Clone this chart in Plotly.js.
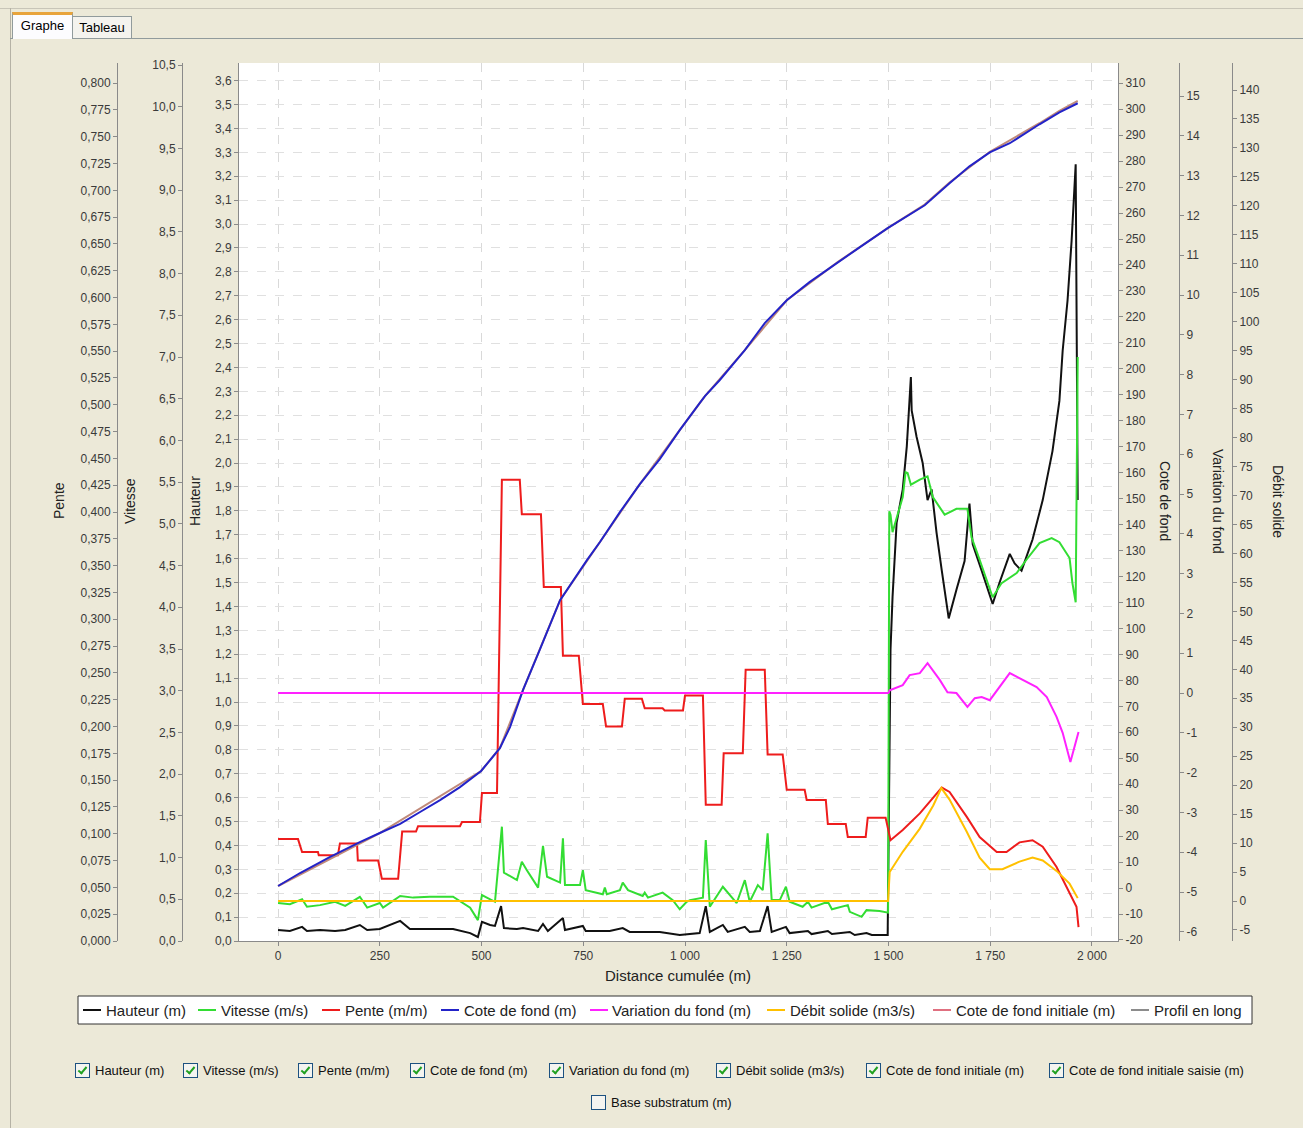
<!DOCTYPE html>
<html>
<head>
<meta charset="utf-8">
<script src="https://cdn.plot.ly/plotly-3.0.1.min.js"></script>
<style>
  html, body { margin:0; padding:0; }
  body { width:1303px; height:1128px; overflow:hidden; background:#ECE9D8; position:relative; font-family:"Liberation Sans", Arial, sans-serif; }
  #chart { position:absolute; left:0; top:0; width:1303px; height:1128px; }
  .frame-top { position:absolute; left:0; top:8px; width:1303px; height:1px; background:#c8c5b8; }
  .frame-left { position:absolute; left:10px; top:8px; width:1px; height:1120px; background:#b5b2a5; }
  .panel-top { position:absolute; left:10px; top:38px; width:1293px; height:1px; background:#919b9c; }
  .tab { position:absolute; font-size:13px; color:#000; text-align:center; box-sizing:border-box; border:1px solid #919b9c; border-bottom:none; }
  .tab1 { left:12px; top:12px; width:61px; height:27px; background:#fcfcfe; border-top:3px solid #e8a43c; line-height:22px; z-index:2; }
  .tab2 { left:72px; top:16px; width:60px; height:22px; background:#f4f3ee; line-height:22px; }
  .cb { position:absolute; font-size:13px; color:#111; white-space:nowrap; line-height:16px; }
  .cb .box { display:inline-block; width:13px; height:13px; border:1px solid #1c5180; background:#f4f4f0; vertical-align:-3px; margin-right:5px; position:relative; }
  .cb .box.on::after { content:""; position:absolute; left:4px; top:1px; width:3px; height:7px; border-right:2px solid #21a121; border-bottom:2px solid #21a121; transform:rotate(40deg); }
</style>
</head>
<body>
<div class="frame-top"></div>
<div class="frame-left"></div>
<div class="panel-top"></div>
<div class="tab tab1">Graphe</div>
<div class="tab tab2">Tableau</div>
<div id="chart"></div>
<div id="checks"></div>
<script>
// ---------------- DATA ----------------
const xTickVals = [0, 250, 500, 750, 1000, 1250, 1500, 1750, 2000];
const xTickText = ['0', '250', '500', '750', '1 000', '1 250', '1 500', '1 750', '2 000'];

const distHauteur = [0,29,59,71,103,140,165,201,219,250,300,324,373,430,472,491,501,521,533,548,555,587,602,639,651,663,700,705,749,756,815,847,864,938,987,1036,1051,1061,1093,1105,1147,1159,1184,1203,1213,1248,1257,1302,1311,1351,1361,1405,1417,1446,1459,1498,
  1505,1510,1520,1535,1545,1550,1555,1557,1569,1584,1596,1606,1618,1631,1648,1667,1687,1699,1707,1729,1756,1773,1798,1810,1827,1854,1879,1903,1920,1928,1940,1950,1960,1965];
const hauteur = [0.046,0.042,0.059,0.042,0.046,0.042,0.046,0.067,0.046,0.05,0.084,0.05,0.05,0.05,0.033,0.017,0.08,0.067,0.063,0.146,0.054,0.05,0.054,0.042,0.071,0.042,0.096,0.046,0.063,0.042,0.042,0.054,0.038,0.038,0.025,0.033,0.146,0.038,0.067,0.038,0.059,0.038,0.042,0.146,0.038,0.059,0.033,0.042,0.029,0.042,0.029,0.038,0.025,0.033,0.025,0.025,
  1.22,1.44,1.75,1.89,2.07,2.22,2.36,2.22,2.11,2.00,1.845,1.89,1.71,1.55,1.35,1.47,1.59,1.83,1.66,1.55,1.41,1.50,1.62,1.58,1.55,1.68,1.845,2.05,2.26,2.47,2.68,2.93,3.25,1.845];

const distVitesse = [0,29,59,71,103,140,165,201,219,250,258,300,332,373,430,472,491,501,513,533,550,555,587,599,611,639,651,661,693,700,705,742,749,756,798,803,808,840,847,860,896,901,909,945,970,987,1004,1012,1044,1051,1061,1093,1127,1147,1159,1179,1191,1203,1213,1233,1248,1257,1289,1302,1311,1351,1361,1400,1405,1434,1446,1478,1499,
  1502,1505,1510,1520,1535,1542,1547,1555,1577,1596,1609,1638,1650,1667,1694,1704,1724,1749,1756,1778,1798,1815,1839,1871,1901,1920,1945,1952,1960,1965];
const vitesse = [0.455,0.44,0.50,0.41,0.43,0.47,0.42,0.53,0.40,0.455,0.40,0.54,0.52,0.53,0.53,0.40,0.25,0.55,0.52,0.47,1.37,0.82,0.73,0.95,0.85,0.64,1.14,0.77,0.70,1.23,0.67,0.67,0.85,0.61,0.56,0.64,0.56,0.61,0.70,0.61,0.54,0.58,0.52,0.58,0.49,0.38,0.47,0.49,0.52,1.21,0.41,0.65,0.455,0.73,0.47,0.67,0.61,1.29,0.49,0.49,0.65,0.47,0.41,0.47,0.40,0.47,0.38,0.43,0.35,0.29,0.37,0.36,0.34,
  5.15,5.11,4.90,5.07,5.32,5.62,5.61,5.47,5.53,5.57,5.32,5.11,5.14,5.18,5.18,4.84,4.57,4.21,4.12,4.29,4.36,4.41,4.57,4.77,4.83,4.78,4.59,4.29,4.06,7.0];

const distPente = [0,49, 59,98, 100,147, 152,194, 196,246, 255,295, 305,339, 344,447, 452,496, 501,538, 550,594, 599,646, 653,695, 700,739, 749,798, 806,845, 852,894, 901,945, 950,995, 1000,1044, 1051,1090, 1095,1142, 1149,1196, 1203,1240, 1250,1294, 1299,1346, 1351,1395, 1400,1444, 1449,1493,
  1505,1535,1577,1618,1631,1650,1692,1724,1766,1790,1822,1854,1879,1913,1945,1962,1967];
const pente = [0.095,0.095, 0.083,0.083, 0.080,0.080, 0.091,0.091, 0.075,0.075, 0.058,0.058, 0.102,0.102, 0.107,0.107, 0.111,0.111, 0.138,0.138, 0.430,0.430, 0.398,0.398, 0.330,0.330, 0.266,0.266, 0.221,0.221, 0.200,0.200, 0.226,0.226, 0.217,0.217, 0.215,0.215, 0.229,0.229, 0.127,0.127, 0.175,0.175, 0.253,0.253, 0.174,0.174, 0.141,0.141, 0.1315,0.1315, 0.109,0.109, 0.097,0.097, 0.115,0.115,
  0.094,0.1035,0.119,0.138,0.143,0.139,0.116,0.097,0.083,0.083,0.092,0.094,0.088,0.069,0.045,0.032,0.013];

const distCote = [0,54,128,201,250,300,349,398,447,499,521,545,570,602,643,693,759,791,840,889,938,987,1036,1049,1085,1147,1196,1250,1306,1375,1429,1498,1552,1589,1650,1699,1749,1798,1871,1920,1965];
const cote = [0.8,5.8,12.0,17.7,21.2,24.7,29.3,33.9,38.9,45.1,49.3,53.9,62.0,76.3,91.7,110.9,126.3,133.3,144.8,155.6,165.2,176.4,186.8,189.5,195.6,207.2,217.6,226.4,233.4,241.1,246.8,254.2,259.5,263.0,271.5,278.0,283.4,286.9,294.2,298.8,302.3];

const distCoteInit = [0,250,499,545,602,693,791,889,987,1049,1147,1250,1375,1498,1589,1650,1749,1871,1920,1965];
const coteInit = [0.8,21.2,45.1,53.9,76.3,110.9,133.3,155.6,176.4,189.5,207.2,226.4,241.1,254.2,263.3,271.8,283.6,294.6,299.4,303.2];

const distVariation = [0,1500,1503,1535,1552,1577,1596,1626,1645,1667,1694,1712,1729,1749,1798,1830,1864,1889,1913,1928,1947,1967];
const variation = [0,0,0.07,0.2,0.45,0.5,0.75,0.33,0.02,0.0,-0.35,-0.13,-0.1,-0.18,0.5,0.33,0.15,-0.1,-0.6,-1.0,-1.73,-0.98];

const distDebit = [0,1499,1503,1535,1577,1610,1630,1650,1692,1724,1749,1780,1822,1854,1879,1913,1945,1965];
const debit = [0,0,5.0,8.5,12.5,16.5,19.5,17.5,12.0,7.5,5.5,5.5,6.8,7.5,7.0,5.2,3.0,0.5];

// right-axis tick values (labels written with a plain hyphen, as in the picture)
const coteTicks = [-20,-10,0,10,20,30,40,50,60,70,80,90,100,110,120,130,140,150,160,170,180,190,200,210,220,230,240,250,260,270,280,290,300,310];
const variationTicks = [-6,-5,-4,-3,-2,-1,0,1,2,3,4,5,6,7,8,9,10,11,12,13,14,15];
const debitTicks = [-5,0,5,10,15,20,25,30,35,40,45,50,55,60,65,70,75,80,85,90,95,100,105,110,115,120,125,130,135,140];

const legendNames = ['Hauteur (m)', 'Vitesse (m/s)', 'Pente (m/m)', 'Cote de fond (m)', 'Variation du fond (m)', 'Débit solide (m3/s)', 'Cote de fond initiale (m)', 'Profil en long'];
const legendColors = ['#111111', '#33dd33', '#ee1c1c', '#2323c8', '#ff22ff', '#ffc000', '#e07080', '#8c8c8c'];
const checkNames = ['Hauteur (m)', 'Vitesse (m/s)', 'Pente (m/m)', 'Cote de fond (m)', 'Variation du fond (m)', 'Débit solide (m3/s)', 'Cote de fond initiale (m)', 'Cote de fond initiale saisie (m)', 'Base substratum (m)'];
const checkStates = [true, true, true, true, true, true, true, true, false];

// ---------------- LAYOUT HELPERS ----------------
const W = 1303, H = 1128;
const px = v => v / W;
const py = v => 1 - v / H;
const tickFont = {family: 'Liberation Sans, Arial, sans-serif', size: 12, color: '#3a3a3a'};
const titleFont = {family: 'Liberation Sans, Arial, sans-serif', size: 15, color: '#222'};
const hyphenLabels = arr => arr.map(v => String(v));

function yAxisBase(extra) {
  return Object.assign({
    domain: [py(941), py(63)],
    showgrid: false, zeroline: false,
    showline: true, linecolor: '#8a8a8a', linewidth: 1,
    ticks: 'outside', ticklen: 4, tickcolor: '#8a8a8a',
    tickfont: tickFont, fixedrange: true
  }, extra);
}

const lw = 2;
const traces = [
  {x: distHauteur, y: hauteur, yaxis: 'y', name: legendNames[0], mode: 'lines', line: {color: legendColors[0], width: lw}},
  {x: distVitesse, y: vitesse, yaxis: 'y2', name: legendNames[1], mode: 'lines', line: {color: legendColors[1], width: lw}},
  {x: distPente, y: pente, yaxis: 'y3', name: legendNames[2], mode: 'lines', line: {color: legendColors[2], width: lw}},
  {x: distCoteInit, y: coteInit, yaxis: 'y4', name: legendNames[6], mode: 'lines', line: {color: '#c08a7a', width: lw}},
  {x: distCote, y: cote, yaxis: 'y4', name: legendNames[3], mode: 'lines', line: {color: legendColors[3], width: lw}},
  {x: distVariation, y: variation, yaxis: 'y5', name: legendNames[4], mode: 'lines', line: {color: legendColors[4], width: lw}},
  {x: distDebit, y: debit, yaxis: 'y6', name: legendNames[5], mode: 'lines', line: {color: legendColors[5], width: lw}}
];
traces.forEach(t => { t.xaxis = 'x'; t.showlegend = false; t.hoverinfo = 'skip'; });

// Custom legend (box, line samples, labels)
const legLineX = [83, 198, 322, 441, 590, 767, 933, 1131];
const legTextX = [104, 219, 343, 462, 610, 788, 954, 1152];
const shapes = [
  {type: 'rect', xref: 'paper', yref: 'paper', x0: px(78), x1: px(1252), y0: py(1024), y1: py(996), fillcolor: '#ffffff', line: {color: '#333', width: 1}, layer: 'below'}
];
const annotations = [];
legendNames.forEach((n, i) => {
  shapes.push({type: 'line', xref: 'paper', yref: 'paper', x0: px(legLineX[i]), x1: px(legLineX[i] + 18), y0: py(1010), y1: py(1010), line: {color: legendColors[i], width: 2}});
  annotations.push({xref: 'paper', yref: 'paper', x: px(legTextX[i]), y: py(1010), xanchor: 'left', yanchor: 'middle', text: n, showarrow: false, font: titleFont});
});
// axis titles
const axTitles = [
  ['Pente', 59, -90], ['Vitesse', 130, -90], ['Hauteur', 195, -90],
  ['Cote de fond', 1165, 90], ['Variation du fond', 1218, 90], ['Débit solide', 1278, 90]
];
axTitles.forEach(a => annotations.push({xref: 'paper', yref: 'paper', x: px(a[1]), y: py(501), text: a[0], textangle: a[2], showarrow: false, xanchor: 'center', yanchor: 'middle', font: {family: titleFont.family, size: 14, color: '#222'}}));
annotations.push({xref: 'paper', yref: 'paper', x: px(678), y: py(975), text: 'Distance cumulée (m)', showarrow: false, xanchor: 'center', yanchor: 'middle', font: titleFont});

const layout = {
  width: W, height: H,
  margin: {l: 0, r: 0, t: 0, b: 0},
  paper_bgcolor: 'rgba(0,0,0,0)', plot_bgcolor: '#ffffff',
  separators: ', ',
  showlegend: false,
  font: tickFont,
  xaxis: {
    domain: [px(239), px(1118)], range: [-96, 2064],
    tickvals: xTickVals, ticktext: xTickText,
    showgrid: true, gridcolor: '#d9d9d9', griddash: 'dash', gridwidth: 1,
    zeroline: false, showline: true, linecolor: '#8a8a8a',
    ticks: 'outside', ticklen: 4, tickcolor: '#8a8a8a', tickfont: tickFont, fixedrange: true
  },
  yaxis: yAxisBase({anchor: 'x', side: 'left', range: [0, 3.674], dtick: 0.1, tick0: 0, tickformat: '.1f',
    showgrid: true, gridcolor: '#e0e0e0', griddash: 'dash'}),
  yaxis2: yAxisBase({overlaying: 'y', anchor: 'free', position: px(182), side: 'left', range: [0, 10.524], dtick: 0.5, tick0: 0, tickformat: '.1f'}),
  yaxis3: yAxisBase({overlaying: 'y', anchor: 'free', position: px(117), side: 'left', range: [0, 0.8187], dtick: 0.025, tick0: 0, tickformat: '.3f'}),
  yaxis4: yAxisBase({overlaying: 'y', anchor: 'x', side: 'right', range: [-20.39, 317.8], tickvals: coteTicks, ticktext: hyphenLabels(coteTicks)}),
  yaxis5: yAxisBase({overlaying: 'y', anchor: 'free', position: px(1179), side: 'right', range: [-6.23, 15.83], tickvals: variationTicks, ticktext: hyphenLabels(variationTicks)}),
  yaxis6: yAxisBase({overlaying: 'y', anchor: 'free', position: px(1232), side: 'right', range: [-6.9, 144.66], tickvals: debitTicks, ticktext: hyphenLabels(debitTicks)}),
  shapes: shapes,
  annotations: annotations
};

Plotly.newPlot('chart', traces, layout, {staticPlot: true, displayModeBar: false});

// checkbox row (UI widgets below the chart)
const checkX = [75, 183, 298, 410, 549, 716, 866, 1049, 591];
const checkY = [1063, 1063, 1063, 1063, 1063, 1063, 1063, 1063, 1095];
const holder = document.getElementById('checks');
checkNames.forEach((n, i) => {
  const d = document.createElement('div');
  d.className = 'cb';
  d.style.left = checkX[i] + 'px';
  d.style.top = checkY[i] + 'px';
  d.innerHTML = '<span class="box' + (checkStates[i] ? ' on' : '') + '"></span>' + n;
  holder.appendChild(d);
});
</script>
</body>
</html>
